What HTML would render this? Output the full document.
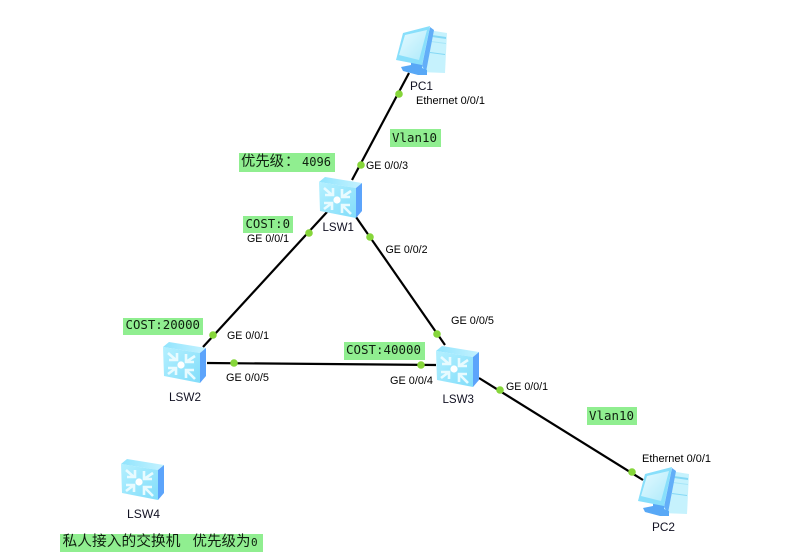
<!DOCTYPE html>
<html>
<head>
<meta charset="utf-8">
<style>
html,body{margin:0;padding:0;background:#fff;width:799px;height:558px;overflow:hidden}
svg{display:block}
.l{font-family:"Liberation Sans",sans-serif;font-size:11px;fill:#000}
.n{font-family:"Liberation Sans",sans-serif;font-size:12px;fill:#111122}
.m{font-family:"DejaVu Sans Mono","Liberation Mono",monospace;font-size:12.5px;fill:#102010}
.c{font-family:"Liberation Sans","Noto Sans CJK SC",sans-serif;font-size:14.5px;font-weight:400;fill:#102010}
.g{fill:#90ee90}
.w{stroke:#000;stroke-width:2.2;fill:none}
.d{fill:#86d63a}
</style>
</head>
<body>
<svg width="799" height="558" viewBox="0 0 799 558" xmlns="http://www.w3.org/2000/svg">
<defs>
<linearGradient id="sf" x1="0" y1="0" x2="1" y2="1"><stop offset="0" stop-color="#b4f0ff"/><stop offset="1" stop-color="#82ddfa"/></linearGradient>
<linearGradient id="st" x1="0" y1="0" x2="1" y2="0"><stop offset="0" stop-color="#90e4fd"/><stop offset="1" stop-color="#c4f2ff"/></linearGradient>
<linearGradient id="ps" x1="0" y1="0" x2="1" y2="1"><stop offset="0" stop-color="#e4faff"/><stop offset="1" stop-color="#aeeafb"/></linearGradient>
<g id="sw">
<polygon points="0,6 6,1 43,7 37,12" fill="url(#st)"/>
<polygon points="37,12 43,7 43,35 37,42" fill="#5ca4fb"/>
<polygon points="0,6 37,12 37,42 1,35" fill="url(#sf)"/>
<circle cx="18" cy="24" r="3.6" fill="#fff"/>
<g stroke="#e8fbff" stroke-width="2.6" fill="none" stroke-linecap="butt">
<path d="M5,12 L13,19 M14,12 V19 H6"/>
<path d="M32,15 L23,21 M23,13 V21 H31"/>
<path d="M5,33 L13,27 M5,27 H13 V34"/>
<path d="M32,38 L23,29 M31,29 H23 V37"/>
</g>
</g>
<g id="pc">
<polygon points="32,4 51,7 49,47 24,46" fill="#c6f2fd"/>
<polygon points="36,9 50,11 50,13 36,11" fill="#84d8f5"/>
<polygon points="35,15 50,17 50,18 35,16" fill="#a6e6f8"/>
<polygon points="34,26 49,28 49,29 34,27" fill="#84d8f5"/>
<polygon points="34,1 38,4 30,46 26,40" fill="#62aef8"/>
<polygon points="5,41 15,39 15,36 26,38 26,42 31,44 31,49 22,49 7,45" fill="#58a8f6"/>
<polygon points="7,7 34,0 26,39 0,34" fill="#88dffb"/>
<polygon points="9,9 31,4 23,34 3,29" fill="url(#ps)"/>
</g>
</defs>

<line class="w" x1="409" y1="73" x2="352" y2="180"/>
<line class="w" x1="327" y1="212" x2="203" y2="347"/>
<line class="w" x1="356" y1="217" x2="445" y2="345"/>
<line class="w" x1="207" y1="363" x2="436" y2="365"/>
<line class="w" x1="479" y1="378" x2="643" y2="480"/>

<use href="#pc" x="396" y="26"/>
<use href="#pc" x="638" y="467"/>
<use href="#sw" x="319" y="176"/>
<use href="#sw" x="163" y="341"/>
<use href="#sw" x="436" y="345"/>
<use href="#sw" x="121" y="458"/>

<circle class="d" cx="399" cy="94" r="3.8"/>
<circle class="d" cx="361" cy="165" r="3.8"/>
<circle class="d" cx="309" cy="233" r="3.8"/>
<circle class="d" cx="213" cy="335" r="3.8"/>
<circle class="d" cx="370" cy="237" r="3.8"/>
<circle class="d" cx="437" cy="334" r="3.8"/>
<circle class="d" cx="234" cy="363" r="3.8"/>
<circle class="d" cx="421" cy="365" r="3.8"/>
<circle class="d" cx="500" cy="390" r="3.8"/>
<circle class="d" cx="632" cy="472" r="3.8"/>

<rect class="g" x="390" y="129" width="51" height="18"/>
<rect class="g" x="239" y="153" width="96" height="19"/>
<rect class="g" x="243" y="216" width="50" height="17"/>
<rect class="g" x="123" y="318" width="80" height="17"/>
<rect class="g" x="344" y="342" width="81" height="18"/>
<rect class="g" x="587" y="407" width="50" height="18"/>
<rect class="g" x="60" y="534" width="203" height="18"/>

<text class="m" x="392" y="142" textLength="45" lengthAdjust="spacingAndGlyphs">Vlan10</text>
<text class="c" x="241" y="166" textLength="43" lengthAdjust="spacingAndGlyphs">优先级</text>
<text class="c" x="285" y="166">：</text>
<text class="m" x="302" y="166" textLength="29" lengthAdjust="spacingAndGlyphs">4096</text>
<text class="m" x="245.5" y="228" textLength="44.5" lengthAdjust="spacingAndGlyphs">COST:0</text>
<text class="m" x="125.5" y="329" textLength="74.5" lengthAdjust="spacingAndGlyphs">COST:20000</text>
<text class="m" x="346" y="354" textLength="75" lengthAdjust="spacingAndGlyphs">COST:40000</text>
<text class="m" x="589" y="420" textLength="45" lengthAdjust="spacingAndGlyphs">Vlan10</text>
<text class="c" x="62.5" y="546" textLength="118" lengthAdjust="spacingAndGlyphs">私人接入的交换机</text>
<text class="c" x="192.5" y="546" textLength="58" lengthAdjust="spacingAndGlyphs">优先级为</text>
<text class="m" x="251" y="546" style="font-size:11px">0</text>

<text class="n" x="410" y="90" textLength="23" lengthAdjust="spacingAndGlyphs">PC1</text>
<text class="l" x="416" y="104" textLength="69" lengthAdjust="spacingAndGlyphs">Ethernet 0/0/1</text>
<text class="l" x="366" y="169" textLength="42" lengthAdjust="spacingAndGlyphs">GE 0/0/3</text>
<text class="n" x="322.5" y="231" textLength="31.5" lengthAdjust="spacingAndGlyphs">LSW1</text>
<text class="l" x="247" y="242" textLength="42" lengthAdjust="spacingAndGlyphs">GE 0/0/1</text>
<text class="l" x="385.5" y="253" textLength="42" lengthAdjust="spacingAndGlyphs">GE 0/0/2</text>
<text class="l" x="227" y="339" textLength="42" lengthAdjust="spacingAndGlyphs">GE 0/0/1</text>
<text class="l" x="226" y="381" textLength="43" lengthAdjust="spacingAndGlyphs">GE 0/0/5</text>
<text class="n" x="169" y="401" textLength="32" lengthAdjust="spacingAndGlyphs">LSW2</text>
<text class="l" x="451" y="324" textLength="43" lengthAdjust="spacingAndGlyphs">GE 0/0/5</text>
<text class="l" x="390" y="384" textLength="43" lengthAdjust="spacingAndGlyphs">GE 0/0/4</text>
<text class="l" x="506" y="390" textLength="42" lengthAdjust="spacingAndGlyphs">GE 0/0/1</text>
<text class="n" x="442.5" y="403" textLength="31.5" lengthAdjust="spacingAndGlyphs">LSW3</text>
<text class="l" x="642" y="462" textLength="69" lengthAdjust="spacingAndGlyphs">Ethernet 0/0/1</text>
<text class="n" x="652" y="531" textLength="23" lengthAdjust="spacingAndGlyphs">PC2</text>
<text class="n" x="127" y="518" textLength="33" lengthAdjust="spacingAndGlyphs">LSW4</text>
</svg>
</body>
</html>
